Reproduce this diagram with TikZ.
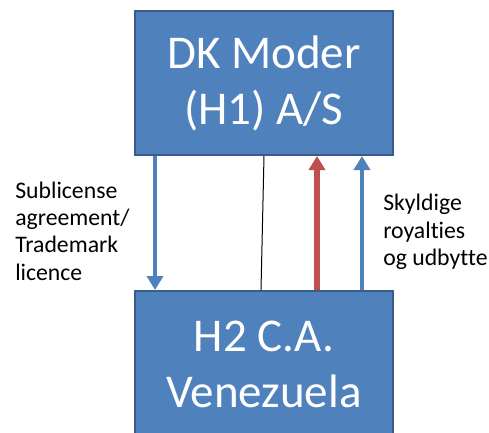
\documentclass[tikz,border=0pt]{standalone}
\usepackage{fontspec}
\setmainfont{Carlito}[Ligatures=NoCommon]
\usetikzlibrary{arrows.meta, positioning}
\definecolor{boxblue}{HTML}{4F81BD}
\definecolor{boxedge}{HTML}{385D8A}
\definecolor{arrowred}{HTML}{C0504D}

\begin{document}
\begin{tikzpicture}[x=0.75pt, y=-0.75pt,
  company/.style={draw=boxedge, line width=1.5pt, fill=boxblue, text=white,
    minimum width=193.5pt, inner sep=0pt, align=center,
    font=\fontsize{35.25}{42}\selectfont},
  flowblue/.style={draw=boxblue, line width=3.4pt,
    -{Triangle[width=12pt, length=10.5pt]}},
  flowred/.style={draw=arrowred, line width=4.1pt,
    -{Triangle[width=12pt, length=10.5pt]}},
  note/.style={inner sep=0pt, align=left,
    font=\fontsize{17.8}{20.5}\selectfont}]
  \useasboundingbox (0,0) rectangle (489,432);
  % Companies
  \node[company, minimum height=108pt] (moder) at (264,83) {DK Moder\\(H1) A/S};
  \node[company, minimum height=109.5pt] (venezuela) at (264,364) {H2 C.A.\\Venezuela};
  % x positions of the flows
  \coordinate (xlicence) at (155,0);
  \coordinate (xlinetop) at (264,0);
  \coordinate (xlinebot) at (261,0);
  \coordinate (xred) at (317,0);
  \coordinate (xroyal) at (362,0);
  % Flows
  \draw[flowblue] (moder.south -| xlicence) -- (venezuela.north -| xlicence);
  \draw[line width=0.75pt] (moder.south -| xlinetop) -- (venezuela.north -| xlinebot);
  \draw[flowred] (venezuela.north -| xred) -- (moder.south -| xred);
  \draw[flowblue] (venezuela.north -| xroyal) -- (moder.south -| xroyal);
  % Labels
  \node[note, anchor=west] (licence) at (15,231) {Sublicense\\agreement/\\Trademark\\licence};
  \node[note, anchor=west] (royalties) at (383,232) {Skyldige\\royalties\\og udbytte};
\end{tikzpicture}
\end{document}
